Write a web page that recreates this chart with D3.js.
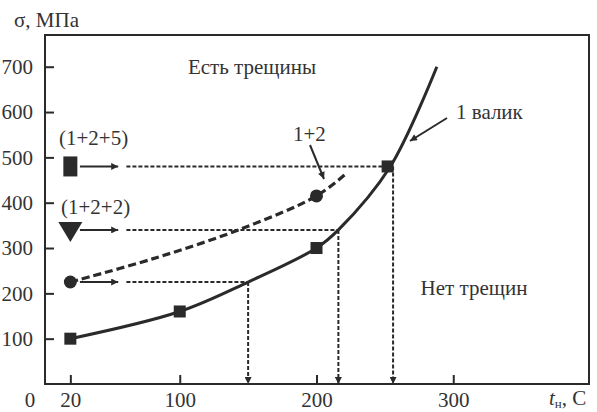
<!DOCTYPE html>
<html><head><meta charset="utf-8">
<script src="https://cdn.jsdelivr.net/npm/d3@7"></script>
<style>
body{margin:0;background:#fff;}
</style></head>
<body><svg id="c" width="597" height="412"></svg>
<script>
// ---- data ----
const xTicks = [20, 100, 200, 300];
const yTicks = [100, 200, 300, 400, 500, 600, 700];
// solid curve "1 валик"
const curve1 = [[20,100],[100,160],[150,225],[200,300],[216,340],[254,480],[288,700]];
const markers1 = [[20,100],[100,160],[200,300],[252,480]];
// dashed curve "1+2"
const curve12 = [[20,225],[80,276],[143,340],[200,415],[222,465]];
const markers12 = [[20,225],[200,415]];
// horizontal guides: sigma level, end temperature
const guideLevels = [480, 340, 225];
const guideEnds = [252, 216, 150];
// vertical guides: temperature, top sigma
const dropT = [150, 216, 256];
const dropS = [225, 340, 480];

// ---- scales ----
const x = d3.scaleLinear().domain([0, 400]).range([43, 590]);
const y = d3.scaleLinear().domain([0, 770]).range([384, 35]);
const svg = d3.select("#c");
const ink = "#2a2a2a";
const fs = 21;
const FF = "Liberation Serif, Times New Roman, Tinos, DejaVu Serif, serif";
svg.attr("font-family", FF);

// defs: arrowhead
const defs = svg.append("defs");
defs.append("marker").attr("id","ah").attr("viewBox","0 0 10 10")
  .attr("refX",10).attr("refY",5).attr("markerWidth",11).attr("markerHeight",7)
  .attr("markerUnits","userSpaceOnUse").attr("orient","auto")
  .append("path").attr("d","M0,0L10,5L0,10z").attr("fill",ink);

// frame
svg.append("rect").attr("x",x(0)+2).attr("y",y(770)).attr("width",x(400)-x(0)-3)
  .attr("height",y(0)-y(770)).attr("fill","none").attr("stroke",ink).attr("stroke-width",2);

// axes
const ax = svg.append("g").attr("transform",`translate(${x(0)+2},0)`)
  .call(d3.axisLeft(y).tickValues(yTicks).tickSize(-9).tickPadding(12));
ax.attr("font-family",FF);
ax.select(".domain").remove();
ax.selectAll("line").attr("stroke",ink).attr("stroke-width",2);
ax.selectAll("text").attr("font-size",fs).attr("fill","#333");

const bx = svg.append("g").attr("transform",`translate(0,${y(0)})`)
  .call(d3.axisBottom(x).tickValues(xTicks).tickSize(-9).tickPadding(8));
bx.attr("font-family",FF);
bx.select(".domain").remove();
bx.selectAll("line").attr("stroke",ink).attr("stroke-width",2);
bx.selectAll("text").attr("font-size",fs).attr("fill","#333").attr("dy","0.7em");

svg.append("text").attr("x",x(0)-13).attr("y",407).attr("text-anchor","middle").attr("font-size",fs).attr("fill","#333").text("0");

// axis titles
svg.append("text").attr("x",14).attr("y",27).attr("font-size",fs).attr("fill","#333").text("σ, МПа");
const xt = svg.append("text").attr("x",549).attr("y",405).attr("font-size",fs).attr("fill","#333");
xt.append("tspan").attr("font-style","italic").text("t");
xt.append("tspan").attr("font-size",13).attr("dy",3).text("н");
xt.append("tspan").attr("dy",-3).text(", C");

// horizontal guide arrows + dashed lines
guideLevels.forEach((s,i)=>{
  svg.append("line").attr("x1",x(27)).attr("x2",x(55)).attr("y1",y(s)).attr("y2",y(s))
    .attr("stroke",ink).attr("stroke-width",2).attr("marker-end","url(#ah)");
  svg.append("line").attr("x1",x(61)).attr("x2",x(guideEnds[i])).attr("y1",y(s)).attr("y2",y(s))
    .attr("stroke",ink).attr("stroke-width",2).attr("stroke-dasharray","4,2");
});
// vertical drops
dropT.forEach((t,i)=>{
  svg.append("line").attr("x1",x(t)).attr("x2",x(t)).attr("y1",y(dropS[i])).attr("y2",y(0))
    .attr("stroke",ink).attr("stroke-width",2).attr("stroke-dasharray","4,2").attr("marker-end","url(#ah)");
});

// curves
const line = d3.line().x(d=>x(d[0])).y(d=>y(d[1])).curve(d3.curveCatmullRom.alpha(0.5));
svg.append("path").attr("d",line(curve1)).attr("fill","none").attr("stroke",ink).attr("stroke-width",3);
svg.append("path").attr("d",line(curve12)).attr("fill","none").attr("stroke",ink).attr("stroke-width",3.2)
  .attr("stroke-dasharray","8,4");

// markers
svg.selectAll(".sq").data(markers1).join("rect").attr("x",d=>x(d[0])-6).attr("y",d=>y(d[1])-6)
  .attr("width",12).attr("height",12).attr("fill",ink);
svg.selectAll(".ci").data(markers12).join("circle").attr("cx",d=>x(d[0])).attr("cy",d=>y(d[1]))
  .attr("r",6.5).attr("fill",ink);
// legend symbols at left
svg.append("rect").attr("x",x(20)-7).attr("y",y(480)-10).attr("width",14).attr("height",20).attr("fill",ink);
svg.append("path").attr("d",`M${x(20)-12},${y(340)-8}L${x(20)+12},${y(340)-8}L${x(20)},${y(340)+12}Z`).attr("fill",ink);

// labels
const lab = (tx,ty,t,anchor)=>svg.append("text").attr("x",tx).attr("y",ty).attr("font-size",fs)
  .attr("fill","#333").attr("text-anchor",anchor||"start").text(t);
lab(252,74,"Есть трещины","middle");
lab(474,295,"Нет трещин","middle");
lab(456,119,"1 валик");
lab(293,141,"1+2");
lab(59,145,"(1+2+5)");
lab(61,214,"(1+2+2)");

// label arrows
svg.append("line").attr("x1",447).attr("y1",118).attr("x2",410).attr("y2",141)
  .attr("stroke",ink).attr("stroke-width",2).attr("marker-end","url(#ah)");
svg.append("line").attr("x1",310).attr("y1",145).attr("x2",324).attr("y2",179)
  .attr("stroke",ink).attr("stroke-width",2).attr("marker-end","url(#ah)");
</script></body></html>
